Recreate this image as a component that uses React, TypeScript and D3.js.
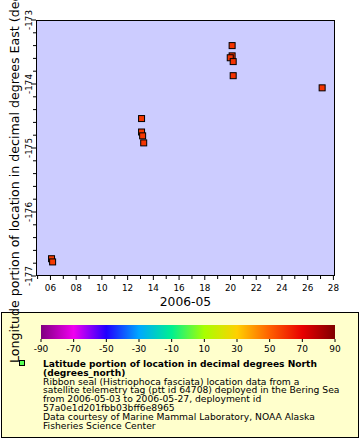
import React from "react";
import * as d3 from "d3";

const times = [
  "2006-05-06T02:00:00Z",
  "2006-05-06T04:00:00Z",
  "2006-05-13T02:00:00Z",
  "2006-05-13T02:00:00Z",
  "2006-05-13T04:00:00Z",
  "2006-05-13T06:00:00Z",
  "2006-05-20T03:00:00Z",
  "2006-05-20T03:00:00Z",
  "2006-05-19T23:30:00Z",
  "2006-05-20T05:00:00Z",
  "2006-05-20T05:00:00Z",
  "2006-05-27T03:00:00Z",
];
const longitudes = [-176.73, -176.78, -174.54, -174.75, -174.81, -174.92, -173.4, -173.56, -173.59, -173.65, -173.87, -174.06];
const latitudes = [57.8, 57.9, 58.6, 58.7, 58.7, 58.8, 59.3, 59.4, 59.4, 59.4, 59.5, 59.6];

const yTicks = [-177, -176, -175, -174, -173];
const cbarTicks = [-90, -70, -50, -30, -10, 10, 30, 50, 70, 90];
const cbarColors = ["#800080", "#f000f0", "#2000ff", "#00a8ff", "#00f090", "#a8ff00", "#ffd000", "#ff6000", "#e80000", "#800000"];

const xDomainStart = "2006-05-04T21:00:00Z";
const xDomainEnd = "2006-05-28T03:00:00Z";
const xTitle = "2006-05";
const yTitle = "Longitude portion of location in decimal degrees East (degrees_east)";
const legendTitle = ["Latitude portion of location in decimal degrees North", "(degrees_north)"];
const legendLines = [
  "Ribbon seal (Histriophoca fasciata) location data from a",
  "satellite telemetry tag (ptt id 64708) deployed in the Bering Sea",
  "from 2006-05-03 to 2006-05-27, deployment id",
  "57a0e1d201fbb03bff6e8965",
  "Data courtesy of Marine Mammal Laboratory, NOAA Alaska",
  "Fisheries Science Center",
];

const FONT = "DejaVu Sans, sans-serif";

export default function App() {
  const W = 360, H = 440;
  const L = 36, R = 335, T = 20, B = 276;
  const x = d3.scaleUtc().domain([new Date(xDomainStart), new Date(xDomainEnd)]).range([L, R]);
  const y = d3.scaleLinear().domain([-177, -173]).range([B, T]);
  const cbX = d3.scaleLinear().domain([-90, 90]).range([41, 335]);
  const color = d3.scaleLinear<string>().domain(cbarTicks).range(cbarColors).interpolate(d3.interpolateRgb);

  const days = d3.utcDay.range(x.domain()[0], x.domain()[1]).filter((d) => x(d) >= L && x(d) <= R);
  const yMinor = d3.range(-177, -172.99, 0.2);
  const gradStops = d3.range(0, 181, 5).map((v) => v - 90);
  const fmtDay = d3.utcFormat("%d");

  return (
    <svg width={W} height={H} style={{ position: "absolute", left: 0, top: 0 }} fontFamily={FONT}>
      <defs>
        <linearGradient id="cbar" x1="0" x2="1" y1="0" y2="0">
          {gradStops.map((v) => (
            <stop key={v} offset={(v + 90) / 180} stopColor={color(v)} />
          ))}
        </linearGradient>
        <clipPath id="plotclip">
          <rect x={L} y={T} width={R - L} height={B - T} />
        </clipPath>
      </defs>
      <rect x={0} y={0} width={W} height={H} fill="#ffffff" />
      <rect x={L} y={T} width={R - L} height={B - T} fill="#ccccff" />

      {/* y ticks */}
      {yMinor.map((v, i) => {
        const major = Math.abs(v - Math.round(v)) < 1e-6;
        return <line key={i} x1={L - (major ? 5 : 3)} x2={L} y1={y(v)} y2={y(v)} stroke="#000" />;
      })}
      {yTicks.map((v) => (
        <text key={v} transform={`translate(32,${y(v)}) rotate(-90)`} textAnchor="middle" fontSize={8.8} fill="#000">
          {v}
        </text>
      ))}

      {/* x ticks */}
      {days.map((d, i) => {
        const major = d.getUTCDate() % 2 === 0;
        return <line key={i} x1={x(d)} x2={x(d)} y1={B} y2={B + (major ? 4 : 3)} stroke="#000" />;
      })}
      {days
        .filter((d) => d.getUTCDate() % 2 === 0)
        .map((d, i) => (
          <text key={i} x={x(d)} y={291} textAnchor="middle" fontSize={8.8} fill="#000">
            {fmtDay(d)}
          </text>
        ))}
      <text x={(L + R) / 2} y={305.5} textAnchor="middle" fontSize={12.3} fill="#000">
        {xTitle}
      </text>

      {/* points */}
      <g clipPath="url(#plotclip)">
        {times.map((t, i) => (
          <rect
            key={i}
            x={x(new Date(t)) - 3}
            y={y(longitudes[i]) - 3}
            width={6}
            height={6}
            fill={color(latitudes[i])}
            stroke="#000"
            strokeWidth={1}
          />
        ))}
      </g>
      <rect x={L + 0.5} y={T + 0.5} width={R - L - 1} height={B - T - 1} fill="none" stroke="#000" />

      {/* legend */}
      <rect x={1.5} y={312.5} width={357} height={125} fill="#ffffcc" stroke="#000" />
      <rect x={cbX(-90)} y={325} width={cbX(90) - cbX(-90)} height={14} fill="url(#cbar)" />
      {cbarTicks.map((v) => (
        <g key={v}>
          <line x1={cbX(v)} x2={cbX(v)} y1={339} y2={342} stroke="#000" />
          <text x={cbX(v)} y={351.5} textAnchor="middle" fontSize={9} fill="#000">
            {v}
          </text>
        </g>
      ))}
      <rect x={19.5} y={360.5} width={5} height={5} fill="#55ff55" stroke="#000" />
      {legendTitle.map((s, i) => (
        <text key={"t" + i} x={43} y={366.7 + i * 8.9} fontSize={9.1} fontWeight="bold" fill="#000">
          {s}
        </text>
      ))}
      {legendLines.map((s, i) => (
        <text key={"l" + i} x={43} y={366.7 + (i + 2) * 8.9} fontSize={9.2} fill="#000">
          {s}
        </text>
      ))}

      <text transform={`translate(18.5,363) rotate(-90)`} fontSize={12.6} fill="#000">
        {yTitle}
      </text>
    </svg>
  );
}
